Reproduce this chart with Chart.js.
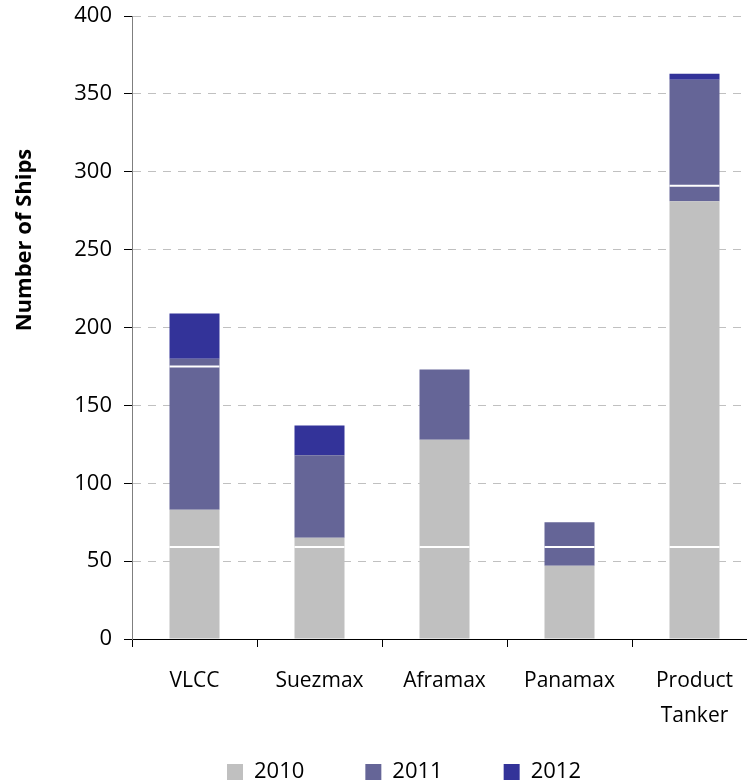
<!DOCTYPE html>
<html>
<head>
<meta charset="utf-8">
<script src="https://cdn.jsdelivr.net/npm/chart.js@4.4.0/dist/chart.umd.min.js"></script>
<style>
    html, body { margin: 0; padding: 0; background: #fff; overflow: hidden; }
    #wrap { width: 760px; height: 783px; }
</style>
</head>
<body>
<div id="wrap"><canvas id="barChart" width="760" height="783"></canvas></div>
<script>
// Tanker fleet by size class, stacked by year
const categories = ['VLCC', 'Suezmax', 'Aframax', 'Panamax', ['Product', 'Tanker']];
const ships2010 = [83, 65, 128, 47, 281];
const ships2011 = [97, 53, 45, 28, 78];
const ships2012 = [29, 19, 0, 0, 4];
const seriesNames = ['2010', '2011', '2012'];
const yMin = 0, yMax = 400, yStep = 50;
// thin white separators inside each bar (values on the y scale)
const barBreaks = [[59, 175], [59], [59], [59], [59, 291]];
const yTitle = 'Number of Ships';

const font = "'Open Sans', 'DejaVu Sans', sans-serif";

// white separator lines across the bars
const breakLines = {
    id: 'breakLines',
    afterDatasetsDraw(chart) {
        const ctx = chart.ctx;
        const y = chart.scales.y;
        const meta = chart.getDatasetMeta(0);
        ctx.save();
        ctx.strokeStyle = '#ffffff';
        ctx.lineWidth = 2;
        barBreaks.forEach((vals, i) => {
            const bar = meta.data[i];
            const half = bar.width / 2;
            vals.forEach(v => {
                const py = y.getPixelForValue(v);
                ctx.beginPath();
                ctx.moveTo(bar.x - half, py);
                ctx.lineTo(bar.x + half, py);
                ctx.stroke();
            });
        });
        ctx.restore();
    }
};

// rotated y axis title, placed a bit above the axis middle
const axisTitle = {
    id: 'axisTitle',
    afterDraw(chart) {
        const ctx = chart.ctx;
        ctx.save();
        ctx.translate(25, 240);
        ctx.rotate(-Math.PI / 2);
        ctx.font = 'bold 22px ' + font;
        ctx.fillStyle = '#000';
        ctx.textAlign = 'center';
        ctx.textBaseline = 'middle';
        ctx.fillText(yTitle, 0, 0);
        ctx.restore();
    }
};

document.addEventListener('DOMContentLoaded', function () {
    new Chart(document.getElementById('barChart'), {
        type: 'bar',
        data: {
            labels: categories,
            datasets: [
                { label: seriesNames[0], data: ships2010, backgroundColor: '#c0c0c0' },
                { label: seriesNames[1], data: ships2011, backgroundColor: '#656597' },
                { label: seriesNames[2], data: ships2012, backgroundColor: '#333399' }
            ]
        },
        options: {
            responsive: false,
            animation: false,
            devicePixelRatio: 1,
            categoryPercentage: 1,
            barPercentage: 0.4,
            layout: {
                padding: { left: 51, right: 3, top: 16, bottom: -10 }
            },
            plugins: {
                tooltip: { enabled: false },
                legend: {
                    position: 'bottom',
                    labels: {
                        boxWidth: 16,
                        boxHeight: 16,
                        padding: 61,
                        color: '#000',
                        font: { family: font, size: 22 }
                    }
                }
            },
            scales: {
                x: {
                    stacked: true,
                    grid: {
                        offset: true,
                        drawOnChartArea: false,
                        color: '#000',
                        tickLength: 8
                    },
                    border: { color: '#000' },
                    ticks: {
                        color: '#000',
                        padding: 17,
                        maxRotation: 0,
                        font: { family: font, size: 21, lineHeight: 1.65 }
                    },
                    afterFit: axis => {
                        axis.height = 61;
                        // two-line label runs into the legend band; don't clip it
                        axis._computeLabelArea = () => undefined;
                    }
                },
                y: {
                    stacked: true,
                    min: yMin,
                    max: yMax,
                    ticks: {
                        stepSize: yStep,
                        color: '#000',
                        padding: 12,
                        font: { family: font, size: 22 }
                    },
                    grid: {
                        color: '#c0c0c0',
                        tickColor: '#000',
                        tickLength: 8,
                        tickBorderDash: []
                    },
                    border: { color: '#7f7f7f', dash: [8, 7] },
                    afterFit: axis => {
                        axis.width = 81;
                        axis.paddingTop = 0;
                    }
                }
            }
        },
        plugins: [breakLines, axisTitle]
    });
});
</script>
</body>
</html>
